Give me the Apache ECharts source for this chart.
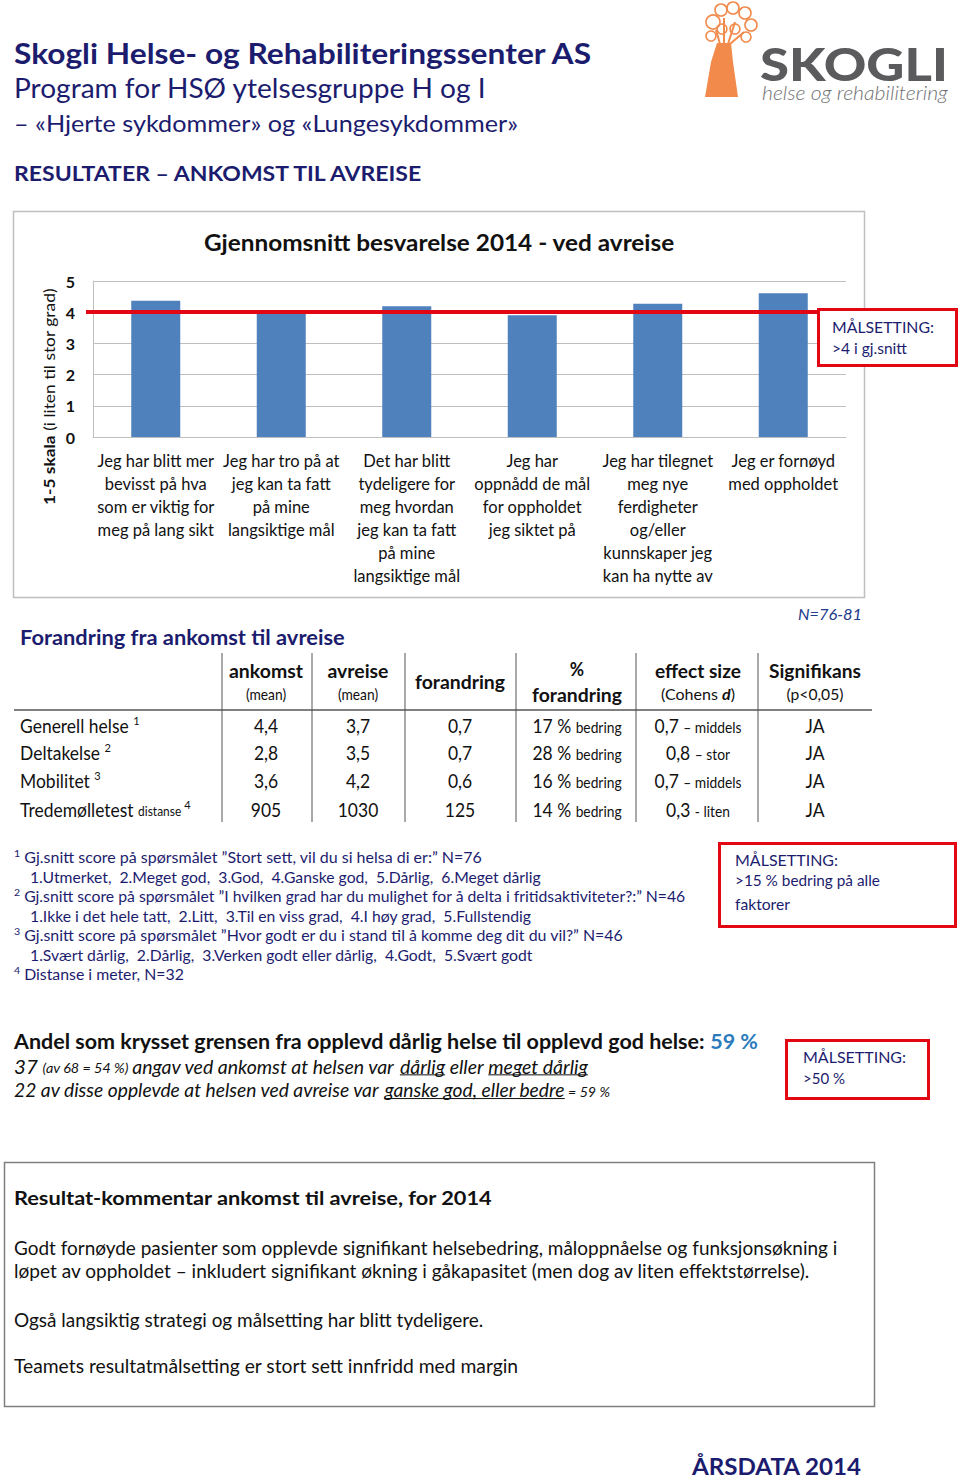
<!DOCTYPE html>
<html><head><meta charset="utf-8">
<script src="https://cdn.jsdelivr.net/npm/echarts@6/dist/echarts.min.js"></script>
<style>html,body{margin:0;padding:0;background:#fff}#c{width:960px;height:1482px}</style>
</head><body><div id="c"></div>
<script>
// ---------------- DATA ----------------
const categories = [
  'Jeg har blitt mer\nbevisst på hva\nsom er viktig for\nmeg på lang sikt',
  'Jeg har tro på at\njeg kan ta fatt\npå mine\nlangsiktige mål',
  'Det har blitt\ntydeligere for\nmeg hvordan\njeg kan ta fatt\npå mine\nlangsiktige mål',
  'Jeg har\noppnådd de mål\nfor oppholdet\njeg siktet på',
  'Jeg har tilegnet\nmeg nye\nferdigheter\nog/eller\nkunnskaper jeg\nkan ha nytte av',
  'Jeg er fornøyd\nmed oppholdet'
];
const avgScores = [4.37, 4.0, 4.19, 3.9, 4.27, 4.61];
const goalValue = 4;
const yMin = 0, yMax = 5, yStep = 1;

const tableRows = ['Generell helse', 'Deltakelse', 'Mobilitet', 'Tredemølletest'];
const rowNotes = ['1', '2', '3', '4'];
const ankomst = ['4,4', '2,8', '3,6', '905'];
const avreise = ['3,7', '3,5', '4,2', '1030'];
const forandring = ['0,7', '0,7', '0,6', '125'];
const pctChange = [17, 28, 16, 14];
const effectSize = ['0,7', '0,8', '0,7', '0,3'];
const effectSep = ['–', '–', '–', '-'];
const effectLabel = ['middels', 'stor', 'middels', 'liten'];
const significance = ['JA', 'JA', 'JA', 'JA'];

// ---------------- HELPERS ----------------
const FONT = 'Lato, "Open Sans", sans-serif';
const NAVY = '#1c1c6e', RED = '#e30613', BLUE = '#2b7bbd', ORANGE = '#f28a4c', INK = '#111';
const G = [];
const ctx = document.createElement('canvas').getContext('2d');
function fstr(s) { return (s.style || 'normal') + ' ' + (s.weight || 'normal') + ' ' + s.size + 'px ' + FONT; }
function mw(s) { ctx.font = fstr(s); return ctx.measureText(s.t).width; }
function line(x, yc, segs, o) {
  o = o || {};
  const ws = segs.map(mw);
  const tot = ws.reduce((a, b) => a + b, 0);
  const sc = o.w ? o.w / tot : (o.sc || 1);
  const maxS = Math.max.apply(null, segs.map(s => s.size));
  const base = yc + 0.3 * maxS;
  let cx = o.align === 'center' ? x - tot * sc / 2 : (o.align === 'right' ? x - tot * sc : x);
  segs.forEach((s, i) => {
    const col = s.color || o.color || INK;
    G.push({ type: 'text', x: cx, y: base - 0.3 * s.size + (s.dy || 0), scaleX: sc, z: o.z || 60, silent: true,
      style: { text: s.t, fontSize: s.size, fontWeight: s.weight || 'normal', fontStyle: s.style || 'normal',
        fontFamily: FONT, fill: col, align: 'left', verticalAlign: 'middle' } });
    if (s.u) {
      const uy = base + 0.15 * s.size;
      G.push({ type: 'line', z: o.z || 60, silent: true, shape: { x1: cx, y1: uy, x2: cx + ws[i] * sc, y2: uy },
        style: { stroke: col, lineWidth: 1 } });
    }
    cx += ws[i] * sc;
  });
}
function rect(x, y, w, h, stroke, lw, fill, z) {
  G.push({ type: 'rect', z: z, silent: true, shape: { x: x, y: y, width: w, height: h },
    style: { stroke: stroke, lineWidth: lw, fill: fill } });
}
function seg(x1, y1, x2, y2, stroke, lw, z) {
  G.push({ type: 'line', z: z || 40, silent: true, shape: { x1: x1, y1: y1, x2: x2, y2: y2 }, style: { stroke: stroke, lineWidth: lw } });
}

// ---------------- HEADER ----------------
line(14, 53, [{ t: 'Skogli Helse- og Rehabiliteringssenter AS', size: 29, weight: 'bold' }], { w: 579, color: NAVY });
line(14, 88, [{ t: 'Program for HSØ ytelsesgruppe H og I', size: 27 }], { w: 473, color: NAVY });
line(14, 123, [{ t: '– «Hjerte sykdommer» og «Lungesykdommer»', size: 24 }], { w: 504, color: NAVY });
line(14, 173, [{ t: 'RESULTATER – ANKOMST TIL AVREISE', size: 21, weight: 'bold' }], { w: 411, color: NAVY });

// logo
G.push({ type: 'polygon', z: 30, silent: true, shape: { points: [[717, 43], [731, 43], [733, 62], [738, 97], [705, 97], [711, 62]] }, style: { fill: ORANGE } });
[[713, 22, 7], [721, 10, 6], [733, 8, 6], [745, 13, 6], [751, 25, 6], [746, 37, 5], [735, 29, 5], [722, 29, 5], [711, 36, 5]].forEach(c => {
  G.push({ type: 'circle', z: 30, silent: true, shape: { cx: c[0], cy: c[1], r: c[2] }, style: { stroke: ORANGE, lineWidth: 1.6, fill: 'none' } });
});
[[720, 44, 716, 30], [724, 44, 724, 18], [728, 44, 735, 22], [730, 44, 744, 32]].forEach(l => seg(l[0], l[1], l[2], l[3], ORANGE, 2, 30));
line(760, 63, [{ t: 'SKOGLI', size: 46, weight: 900 }], { w: 188, color: '#5b5b5e' });
line(762, 92, [{ t: 'helse og rehabilitering', size: 19, weight: 300, style: 'italic' }], { w: 186, color: '#6f6f72' });

// ---------------- CHART FRAME ----------------
rect(13.5, 211.5, 851, 386, '#bfbfbf', 1.5, 'none', 1);
line(439.5, 242, [{ t: 'Gjennomsnitt besvarelse 2014 - ved avreise', size: 22, weight: 'bold' }], { w: 471, align: 'center' });
(function () {
  const segs = [{ t: '1-5 skala', size: 15, weight: 'bold' }, { t: '\u00a0(i liten til stor grad)', size: 15 }];
  const ws = segs.map(mw), sc = 217 / (ws[0] + ws[1]);
  let yy = 505;
  segs.forEach((s, i) => {
    G.push({ type: 'text', x: 49, y: yy, rotation: Math.PI / 2, scaleX: sc, z: 60, silent: true,
      style: { text: s.t, fontSize: s.size, fontWeight: s.weight || 'normal', fontFamily: FONT, fill: INK, align: 'left', verticalAlign: 'middle' } });
    yy -= ws[i] * sc;
  });
})();
rect(818.5, 309.5, 138, 56, RED, 3, '#fff', 50);
line(832, 327, [{ t: 'MÅLSETTING:', size: 15 }], { w: 102, color: NAVY, z: 55 });
line(832, 348, [{ t: '>4 i gj.snitt', size: 15 }], { w: 75, color: NAVY, z: 55 });

// ---------------- TABLE ----------------
line(862, 614, [{ t: 'N=76-81', size: 15, style: 'italic' }], { w: 64, align: 'right', color: '#203a8a' });
line(20, 637, [{ t: 'Forandring fra ankomst til avreise', size: 20, weight: 'bold' }], { w: 325, color: NAVY });
seg(14, 710, 872, 710, '#7f7f7f', 2);
[222, 312, 405, 516, 636, 758].forEach(x => seg(x, 653, x, 822, '#555', 1));
const colC = [266, 358, 460, 577, 698, 815];
const HS = 0.92;
line(colC[0], 671, [{ t: 'ankomst', size: 19, weight: 'bold' }], { align: 'center', w: 74 });
line(colC[0], 694, [{ t: '(mean)', size: 15 }], { align: 'center', sc: HS });
line(colC[1], 671, [{ t: 'avreise', size: 19, weight: 'bold' }], { align: 'center', w: 61 });
line(colC[1], 694, [{ t: '(mean)', size: 15 }], { align: 'center', sc: HS });
line(colC[2], 682, [{ t: 'forandring', size: 19, weight: 'bold' }], { align: 'center', w: 90 });
line(colC[3], 669, [{ t: '%', size: 19, weight: 'bold' }], { align: 'center', sc: HS });
line(colC[3], 695, [{ t: 'forandring', size: 19, weight: 'bold' }], { align: 'center', w: 90 });
line(colC[4], 671, [{ t: 'effect size', size: 19, weight: 'bold' }], { align: 'center', w: 86 });
line(colC[4], 694, [{ t: '(Cohens ', size: 15 }, { t: 'd', size: 15, weight: 'bold', style: 'italic' }, { t: ')', size: 15 }], { align: 'center', w: 74 });
line(colC[5], 671, [{ t: 'Signifikans', size: 19, weight: 'bold' }], { align: 'center', w: 92 });
line(colC[5], 694, [{ t: '(p<0,05)', size: 15 }], { align: 'center', w: 57 });

const rowY = [726, 753, 781, 810];
tableRows.forEach((r, i) => {
  const segs = [{ t: r + ' ', size: 19 }];
  if (i === 3) segs.push({ t: 'distanse ', size: 13 });
  segs.push({ t: rowNotes[i], size: 12, dy: -8 });
  line(20, rowY[i], segs, { sc: HS });
  line(colC[0], rowY[i], [{ t: ankomst[i], size: 19 }], { align: 'center', sc: HS });
  line(colC[1], rowY[i], [{ t: avreise[i], size: 19 }], { align: 'center', sc: HS });
  line(colC[2], rowY[i], [{ t: forandring[i], size: 19 }], { align: 'center', sc: HS });
  line(colC[3], rowY[i], [{ t: pctChange[i] + ' % ', size: 19 }, { t: 'bedring', size: 15 }], { align: 'center', sc: HS });
  line(colC[4], rowY[i], [{ t: effectSize[i] + ' ', size: 19 }, { t: effectSep[i] + ' ' + effectLabel[i], size: 15 }], { align: 'center', sc: HS });
  line(colC[5], rowY[i], [{ t: significance[i], size: 19 }], { align: 'center', sc: HS });
});

// ---------------- FOOTNOTES ----------------
const fn = [
  [14, 857, [{ t: '1', size: 10, dy: -5 }, { t: '\u00a0Gj.snitt score på spørsmålet ”Stort sett, vil du si helsa di er:” N=76', size: 15 }], 469],
  [30, 877, [{ t: '1.Utmerket,\u00a0 2.Meget god,\u00a0 3.God,\u00a0 4.Ganske god,\u00a0 5.Dårlig,\u00a0 6.Meget dårlig', size: 15 }], 511],
  [14, 896, [{ t: '2', size: 10, dy: -5 }, { t: '\u00a0Gj.snitt score på spørsmålet ”I hvilken grad har du mulighet for å delta i fritidsaktiviteter?:” N=46', size: 15 }], 673],
  [30, 916, [{ t: '1.Ikke i det hele tatt,\u00a0 2.Litt,\u00a0 3.Til en viss grad,\u00a0 4.I høy grad,\u00a0 5.Fullstendig', size: 15 }], 502],
  [14, 935, [{ t: '3', size: 10, dy: -5 }, { t: '\u00a0Gj.snitt score på spørsmålet ”Hvor godt er du i stand til å komme deg dit du vil?” N=46', size: 15 }], 611],
  [30, 955, [{ t: '1.Svært dårlig,\u00a0 2.Dårlig,\u00a0 3.Verken godt eller dårlig,\u00a0 4.Godt,\u00a0 5.Svært godt', size: 15 }], 503],
  [14, 974, [{ t: '4', size: 10, dy: -5 }, { t: '\u00a0Distanse i meter, N=32', size: 15 }], 170]
];
fn.forEach(f => line(f[0], f[1], f[2], { w: f[3], color: NAVY }));
rect(719.5, 843.5, 236, 83, RED, 3, '#fff', 50);
line(735, 860, [{ t: 'MÅLSETTING:', size: 15 }], { w: 103, color: NAVY, z: 55 });
line(735, 880, [{ t: '>15 % bedring på alle', size: 15 }], { w: 145, color: NAVY, z: 55 });
line(735, 904, [{ t: 'faktorer', size: 15 }], { w: 55, color: NAVY, z: 55 });

// ---------------- ANDEL ----------------
line(14, 1041, [{ t: 'Andel som krysset grensen fra opplevd dårlig helse til opplevd god helse: ', size: 20, weight: 'bold' },
  { t: '59 %', size: 20, weight: 'bold', color: BLUE }], { w: 744 });
line(14, 1066, [{ t: '37 ', size: 20, style: 'italic' }, { t: '(av 68 = 54 %) ', size: 14, style: 'italic' },
  { t: 'angav ved ankomst at helsen var ', size: 19, style: 'italic' }, { t: 'dårlig', size: 19, style: 'italic', u: true },
  { t: ' eller ', size: 19, style: 'italic' }, { t: 'meget dårlig', size: 19, style: 'italic', u: true }], { w: 574 });
line(14, 1090, [{ t: '22 av disse opplevde at helsen ved avreise var ', size: 19, style: 'italic' },
  { t: 'ganske god, eller bedre', size: 19, style: 'italic', u: true }, { t: ' = 59 %', size: 14, style: 'italic' }], { w: 596 });
rect(786.5, 1040.5, 142, 58, RED, 3, '#fff', 50);
line(803, 1057, [{ t: 'MÅLSETTING:', size: 15 }], { w: 103, color: NAVY, z: 55 });
line(803, 1078, [{ t: '>50 %', size: 15 }], { w: 42, color: NAVY, z: 55 });

// ---------------- COMMENT BOX ----------------
rect(4.5, 1162.5, 870, 244, '#7f7f7f', 1.5, 'none', 5);
line(14, 1198, [{ t: 'Resultat-kommentar ankomst til avreise, for 2014', size: 19, weight: 'bold' }], { w: 479 });
line(14, 1247, [{ t: 'Godt fornøyde pasienter som opplevde signifikant helsebedring, måloppnåelse og funksjonsøkning i', size: 19 }], { w: 824 });
line(14, 1271, [{ t: 'løpet av oppholdet – inkludert signifikant økning i gåkapasitet (men dog av liten effektstørrelse).', size: 19 }], { w: 797 });
line(14, 1319, [{ t: 'Også langsiktig strategi og målsetting har blitt tydeligere.', size: 19 }], { w: 470 });
line(14, 1366, [{ t: 'Teamets resultatmålsetting er stort sett innfridd med margin', size: 19 }], { w: 505 });

line(692, 1466, [{ t: 'ÅRSDATA 2014', size: 22, weight: 'bold' }], { w: 170, color: NAVY });

// ---------------- CHART ----------------
const chart = echarts.init(document.getElementById('c'), null, { renderer: 'svg', width: 960, height: 1482 });
chart.setOption({
  animation: false,
  backgroundColor: '#fff',
  textStyle: { fontFamily: FONT },
  grid: { left: 93, right: 114, top: 281, bottom: 1045 },
  xAxis: {
    type: 'category', data: categories,
    axisTick: { show: false },
    axisLine: { lineStyle: { color: '#bfbfbf' } },
    axisLabel: { interval: 0, fontSize: 16.5, lineHeight: 23, color: INK, margin: 12 }
  },
  yAxis: {
    type: 'value', min: yMin, max: yMax, interval: yStep,
    axisLine: { show: true, lineStyle: { color: '#bfbfbf' } }, axisTick: { show: false },
    axisLabel: { fontSize: 16, fontWeight: 'bold', color: INK, margin: 18 },
    splitLine: { lineStyle: { color: '#bfbfbf' } }
  },
  series: [{
    type: 'bar', data: avgScores, barWidth: 49, silent: true,
    itemStyle: { color: '#4f81bd' },
    markLine: {
      silent: true, symbol: ['none', 'none'], label: { show: false },
      lineStyle: { color: RED, width: 4, type: 'solid' },
      data: [[{ x: 86, yAxis: goalValue }, { x: 818, yAxis: goalValue }]]
    }
  }],
  graphic: { elements: G }
});
</script>
</body></html>
